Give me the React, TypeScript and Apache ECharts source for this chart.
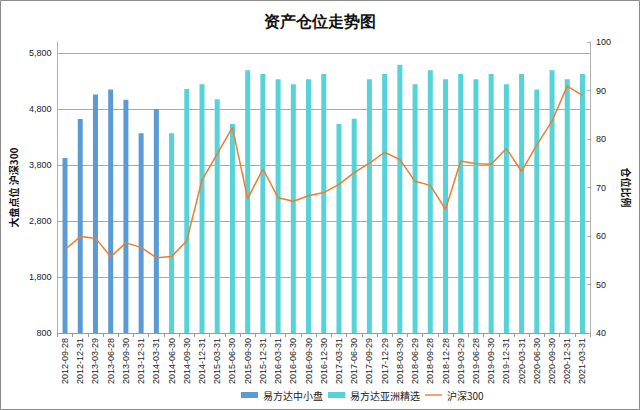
import React, { useEffect, useRef } from "react";
import * as echarts from "echarts";

const categories = [
  "2012-09-28", "2012-12-31", "2013-03-29", "2013-06-28", "2013-09-30", "2013-12-31", "2014-03-31",
  "2014-06-30", "2014-09-30", "2014-12-31", "2015-03-31", "2015-06-30", "2015-09-30", "2015-12-31",
  "2016-03-31", "2016-06-30", "2016-09-30", "2016-12-30", "2017-03-31", "2017-06-30", "2017-09-29",
  "2017-12-29", "2018-03-30", "2018-06-29", "2018-09-28", "2018-12-28", "2019-03-29", "2019-06-28",
  "2019-09-30", "2019-12-31", "2020-03-31", "2020-06-30", "2020-09-30", "2020-12-31", "2021-03-31",
];

// 仓位比例 (%) — 易方达中小盘
const zxpPosition = [
  76.1, 84.1, 89.2, 90.2, 88.1, 81.2, 86.2,
  null, null, null, null, null, null, null,
  null, null, null, null, null, null, null,
  null, null, null, null, null, null, null,
  null, null, null, null, null, null, null,
];

// 仓位比例 (%) — 易方达亚洲精选
const yzjxPosition = [
  null, null, null, null, null, null, null,
  81.2, 90.3, 91.3, 88.2, 83.1, 94.2, 93.4,
  92.3, 91.3, 92.3, 93.4, 83.1, 84.2, 92.3,
  93.4, 95.3, 91.3, 94.2, 92.3, 93.4, 92.3,
  93.4, 91.3, 93.4, 90.2, 94.2, 92.3, 93.4,
];

// 沪深300 点位
const hs300 = [
  2293, 2523, 2495, 2164, 2410, 2330, 2146,
  2165, 2450, 3533, 4000, 4473, 3202, 3731,
  3218, 3154, 3253, 3310, 3456, 3666, 3837,
  4030, 3898, 3510, 3438, 3010, 3872, 3826,
  3814, 4096, 3686, 4163, 4587, 5211, 5048,
];

const leftMin = 800;
const leftMax = 6000;
const leftStep = 1000;
const rightMin = 40;
const rightMax = 100;
const rightStep = 10;

const lineLegendIcon = "path://M0,0L0,0M0,6L0,6M0,2.3L17,2.3L17,3.7L0,3.7Z";

export default function App() {
  const ref = useRef<HTMLDivElement>(null);
  useEffect(() => {
    if (!ref.current) return;
    const chart = echarts.init(ref.current, null, { renderer: "svg" });
    const labelFont = "'Liberation Sans', Arial, sans-serif";
    chart.setOption({
      animation: false,
      backgroundColor: "#ffffff",
      title: {
        text: "资产仓位走势图",
        left: "center",
        top: 8,
        textStyle: { fontSize: 16, fontWeight: "bold", color: "#111", fontFamily: "serif" },
      },
      graphic: [
        {
          type: "rect",
          shape: { x: 0.5, y: 0.5, width: 639, height: 409 },
          style: { fill: "none", stroke: "#8c8c8c", lineWidth: 1 },
          silent: true,
          z: -10,
        },
      ],
      grid: { left: 52, right: 49, top: 42, bottom: 77 },
      legend: {
        left: 236,
        top: 385,
        itemWidth: 17,
        itemHeight: 6,
        itemGap: 5,
        textStyle: { fontSize: 10, color: "#222", fontFamily: "'Noto Sans CJK SC', sans-serif" },
        data: [
          { name: "易方达中小盘", icon: "rect" },
          { name: "易方达亚洲精选", icon: "rect" },
          { name: "沪深300", icon: lineLegendIcon },
        ],
      },
      xAxis: {
        type: "category",
        data: categories,
        boundaryGap: true,
        axisLine: { show: true, lineStyle: { color: "#9a9a9a" } },
        axisTick: { show: true, length: 4, lineStyle: { color: "#9a9a9a" } },
        axisLabel: { rotate: 90, fontSize: 9, color: "#222", margin: 5, interval: 0, fontFamily: labelFont },
      },
      yAxis: [
        {
          type: "value",
          position: "left",
          min: leftMin,
          max: leftMax,
          interval: leftStep,
          name: "大盘点位 沪深300",
          nameLocation: "middle",
          nameGap: 30,
          nameRotate: 90,
          nameTextStyle: { fontSize: 10, fontWeight: "bold", color: "#111", fontFamily: "'Noto Sans CJK SC', sans-serif" },
          axisLine: { show: true, lineStyle: { color: "#b0b0b0" } },
          axisTick: { show: false },
          axisLabel: {
            fontSize: 9,
            color: "#222",
            margin: 6,
            fontFamily: labelFont,
            formatter: (v: number) =>
              (v - leftMin) % leftStep === 0 ? v.toLocaleString("en-US") : "",
          },
          splitLine: { show: true, showMaxLine: false, lineStyle: { color: "#a8a8a8", width: 1 } },
        },
        {
          type: "value",
          position: "right",
          min: rightMin,
          max: rightMax,
          interval: rightStep,
          name: "仓位比例",
          nameLocation: "middle",
          nameGap: 24,
          nameRotate: -90,
          nameTextStyle: { fontSize: 10, fontWeight: "bold", color: "#111", fontFamily: "'Noto Sans CJK SC', sans-serif" },
          axisLine: { show: true, lineStyle: { color: "#b0b0b0" } },
          axisTick: { show: true, inside: true, length: 3, lineStyle: { color: "#b0b0b0" } },
          axisLabel: { fontSize: 9, color: "#222", margin: 6, fontFamily: labelFont },
          splitLine: { show: false },
        },
      ],
      series: [
        {
          name: "易方达中小盘",
          type: "bar",
          yAxisIndex: 1,
          stack: "pos",
          barWidth: 5,
          itemStyle: { color: "#5b9bd5" },
          data: zxpPosition,
        },
        {
          name: "易方达亚洲精选",
          type: "bar",
          yAxisIndex: 1,
          stack: "pos",
          barWidth: 5,
          itemStyle: { color: "#55d3d8" },
          data: yzjxPosition,
        },
        {
          name: "沪深300",
          type: "line",
          yAxisIndex: 0,
          showSymbol: false,
          symbol: "none",
          z: 5,
          lineStyle: { color: "#ed7d31", width: 1.5 },
          itemStyle: { color: "#ed7d31" },
          data: hs300,
        },
      ],
    });
    return () => chart.dispose();
  }, []);
  return (
    <div
      ref={ref}
      style={{ position: "absolute", left: 0, top: 0, width: 640, height: 410 }}
    />
  );
}
